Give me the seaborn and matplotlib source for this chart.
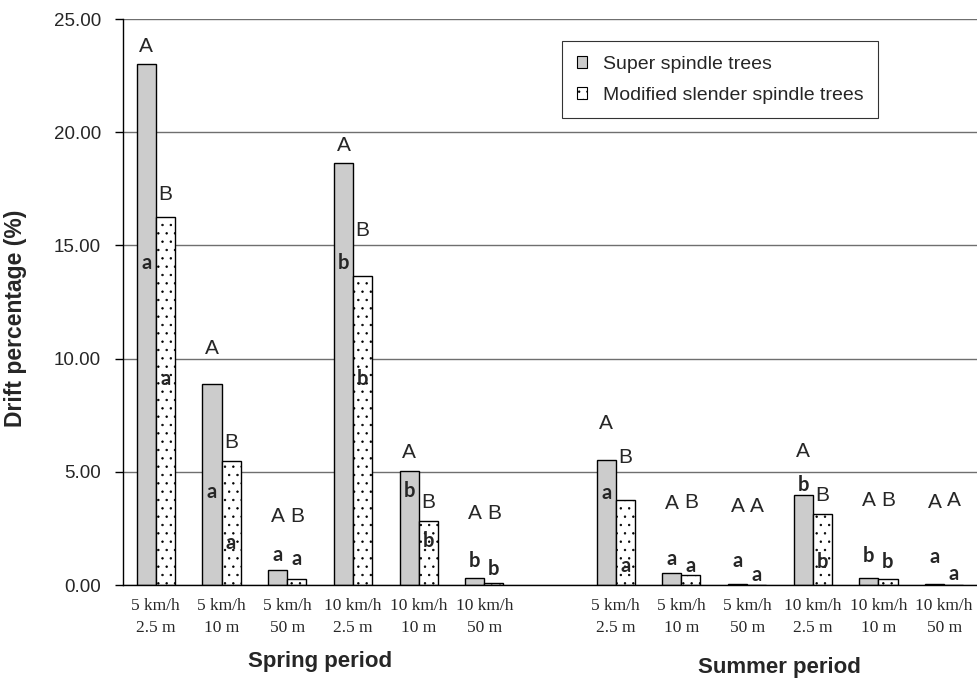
import numpy as np
import pandas as pd
import seaborn as sns
import matplotlib.pyplot as plt
from matplotlib.patches import Patch
from matplotlib.ticker import FormatStrFormatter

# conditions (speed / distance), spring then summer, with an empty slot between
cond_keys = ["sp1", "sp2", "sp3", "sp4", "sp5", "sp6", "gap",
             "su1", "su2", "su3", "su4", "su5", "su6"]
tick_labels = ["5 km/h\n2.5 m", "5 km/h\n10 m", "5 km/h\n50 m",
               "10 km/h\n2.5 m", "10 km/h\n10 m", "10 km/h\n50 m", "",
               "5 km/h\n2.5 m", "5 km/h\n10 m", "5 km/h\n50 m",
               "10 km/h\n2.5 m", "10 km/h\n10 m", "10 km/h\n50 m"]
bar_keys = [k for k in cond_keys if k != "gap"]

series = ["Super spindle trees", "Modified slender spindle trees"]
super_vals = [23.00, 8.88, 0.65, 18.63, 5.04, 0.29, 5.54, 0.52, 0.03, 3.99, 0.33, 0.03]
slender_vals = [16.27, 5.49, 0.28, 13.63, 2.81, 0.10, 3.75, 0.42, 0.02, 3.14, 0.26, 0.01]

# significance letters
super_upper = ["A"] * 12
slender_upper = ["B", "B", "B", "B", "B", "B", "B", "B", "A", "B", "B", "A"]
super_upper_y = [23.78, 10.45, 3.02, 19.43, 5.84, 3.14, 7.14, 3.58, 3.46, 5.89, 3.75, 3.65]
slender_upper_y = [17.26, 6.29, 3.02, 15.64, 3.64, 3.14, 5.62, 3.65, 3.46, 3.94, 3.75, 3.75]
lower = ["a", "a", "a", "b", "b", "b", "a", "a", "a", "b", "b", "a"]
super_lower_y = [14.21, 4.12, 1.33, 14.21, 4.17, 1.08, 4.05, 1.14, 1.07, 4.42, 1.28, 1.22]
slender_lower_y = [9.08, 1.84, 1.14, 9.08, 1.96, 0.69, 0.85, 0.85, 0.43, 1.00, 1.00, 0.49]

df = pd.DataFrame({
    "cond": bar_keys * 2,
    "tree": [series[0]] * 12 + [series[1]] * 12,
    "drift": super_vals + slender_vals,
})

sns.set_style("white")
plt.rcParams["font.family"] = ["Liberation Sans", "DejaVu Sans"]
plt.rcParams["hatch.linewidth"] = 0.5

fig = plt.figure(figsize=(9.77, 6.80), dpi=100)
ax = fig.add_axes([123 / 977, 1 - 585 / 680, 1 - 123 / 977, (585 - 19) / 680])

sns.barplot(data=df, x="cond", y="drift", hue="tree", order=cond_keys,
            hue_order=series, palette=["#cccccc", "white"], width=0.58,
            edgecolor="black", linewidth=1, legend=False, ax=ax)

for p in ax.containers[1]:
    p.set_hatch("..")

ax.set_xlim(-0.5, 12.5)
ax.set_ylim(0, 25)
ax.set_yticks(np.arange(0, 26, 5))
ax.yaxis.set_major_formatter(FormatStrFormatter("%.2f"))
ax.grid(axis="y", color="#6f6f6f", linewidth=1)
ax.set_axisbelow(True)
for s in ["top", "right"]:
    ax.spines[s].set_visible(False)
for s in ["left", "bottom"]:
    ax.spines[s].set_color("black")
    ax.spines[s].set_linewidth(1)

ax.set_xticks(range(13))
ax.set_xticklabels(tick_labels, fontfamily="Liberation Serif", fontsize=12.5,
                   linespacing=1.55)
ax.set_xticks(np.arange(-0.5, 13, 1), minor=True)
ax.tick_params(axis="x", which="major", length=0, pad=9)
ax.tick_params(axis="x", which="minor", length=5, width=1, color="black", direction="out")
ax.tick_params(axis="y", length=6, width=1, color="black", direction="out",
               left=True, labelsize=13.5, pad=10)
ax.set_xlabel("")
ax.set_ylabel("Drift percentage (%)", fontsize=16.5, fontweight="bold")
ax.yaxis.set_label_coords(-0.112, 0.472)

# letters above / inside bars
pos = [i for i, k in enumerate(cond_keys) if k != "gap"]
off = 0.145
for i, x in enumerate(pos):
    ax.text(x - off, super_upper_y[i], super_upper[i], ha="center", va="center", fontsize=15)
    ax.text(x + off, slender_upper_y[i], slender_upper[i], ha="center", va="center", fontsize=15)
    ax.text(x - off, super_lower_y[i], lower[i], ha="center", va="center",
            fontsize=14.5, fontweight="bold", fontfamily="Lato")
    ax.text(x + off, slender_lower_y[i], lower[i], ha="center", va="center",
            fontsize=14.5, fontweight="bold", fontfamily="Lato")

# period captions
narrow = ["Liberation Sans Narrow", "Liberation Sans"]
ax.text(2.5, -0.136, "Spring period", transform=ax.get_xaxis_transform(),
        ha="center", va="center", fontsize=16, fontweight="bold", family=narrow)
ax.text(9.5, -0.145, "Summer period", transform=ax.get_xaxis_transform(),
        ha="center", va="center", fontsize=16, fontweight="bold", family=narrow)

handles = [Patch(facecolor="#cccccc", edgecolor="black", linewidth=0.8),
           Patch(facecolor="white", edgecolor="black", linewidth=0.8, hatch="..")]
leg = ax.legend(handles, series, loc="upper left",
                bbox_to_anchor=(562 / 977, 1 - 41 / 680), bbox_transform=fig.transFigure,
                borderaxespad=0, fontsize=14, frameon=True, fancybox=False,
                handlelength=0.55, handleheight=0.55, handletextpad=0.8,
                labelspacing=0.72, borderpad=0.75)
leg.get_frame().set_edgecolor("black")
leg.get_frame().set_linewidth(0.8)

fig.savefig("out.png", dpi=100)
